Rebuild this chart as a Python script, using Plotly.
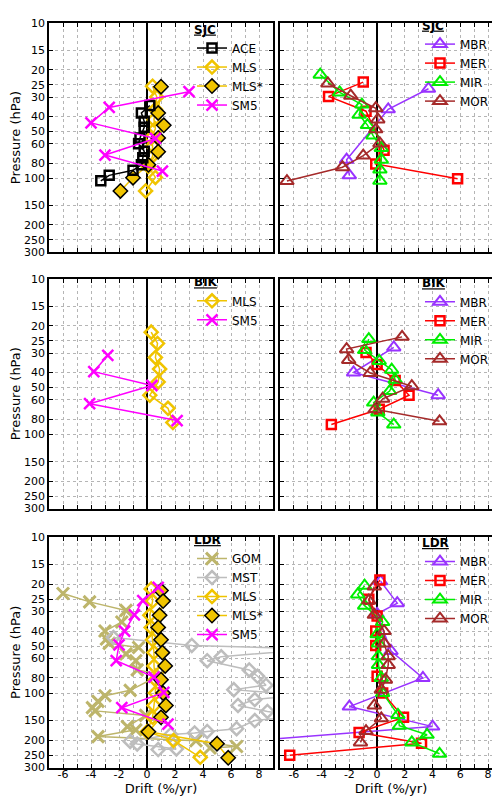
import math
import plotly.graph_objects as go

FONT = "DejaVu Sans"

# ---------------- axis ticks ----------------
PRESSURE_TICKS = [10, 15, 20, 25, 30, 40, 50, 60, 80, 100, 150, 200, 250, 300]
PRESSURE_LABELS = [str(v) for v in PRESSURE_TICKS]
DRIFT_TICKS = list(range(-7, 10))
DRIFT_LABELS = [str(v) if (v % 2 == 0 and -6 <= v <= 8) else "" for v in DRIFT_TICKS]

# ---------------- SJC (top row) ----------------
SJC_ACE_P = [34, 38, 43, 47, 55, 60, 67, 74, 82, 89, 96, 104]
SJC_ACE_X = [0.2, -0.4, -0.2, -0.2, -0.5, -0.6, -0.2, -0.3, -0.4, -1.0, -2.7, -3.3]
SJC_MLS_P = [25.5, 30, 36, 42, 48, 55, 62, 72, 84, 99, 121]
SJC_MLS_X = [0.4, 0.7, 0.6, 0.5, 0.6, 0.3, 0.4, 0.4, 0.1, 0.6, -0.1]
SJC_MLSS_P = [25.7, 38, 45.6, 55, 67.5, 82, 99.4, 121]
SJC_MLSS_X = [1.0, 0.8, 1.2, 0.8, 0.8, 0.1, -1.0, -1.9]
SJC_SM5_P = [27.7, 35, 44, 55.5, 71, 90]
SJC_SM5_X = [3.0, -2.7, -4.0, 0.6, -3.0, 1.1]

SJC_MBR_P = [26.5, 36, 76, 96]
SJC_MBR_X = [3.7, 0.8, -2.2, -2.0]
SJC_MER_P = [24, 29.7, 37, 66, 81, 101]
SJC_MER_X = [-1.0, -3.5, -0.8, 0.5, -0.1, 5.8]
SJC_MIR_P = [21.5, 28, 33.5, 39, 45.5, 53, 64, 76, 88, 104]
SJC_MIR_X = [-4.1, -2.7, -1.1, -1.3, -0.7, -0.3, 0.3, 0.3, 0.2, 0.2]
SJC_MOR_P = [24.5, 29.4, 35.4, 41.8, 48.4, 59.7, 71.5, 85, 104.5]
SJC_MOR_X = [-3.55, -1.9, -0.1, 0.05, -0.1, 0.2, -1.0, -2.5, -6.5]

# ---------------- BIK (middle row) ----------------
BIK_MLS_P = [22, 26, 32, 38, 46, 56, 68, 84]
BIK_MLS_X = [0.3, 0.75, 0.6, 0.9, 0.8, 0.2, 1.5, 1.85]
BIK_SM5_P = [31, 39.5, 48.5, 63.5, 81.5]
BIK_SM5_X = [-2.8, -3.8, 0.35, -4.1, 2.15]

BIK_MBR_P = [27.6, 40, 56]
BIK_MBR_X = [1.2, -1.7, 4.4]
BIK_MER_P = [29.7, 35.5, 45, 56, 69, 86.5]
BIK_MER_X = [-0.8, 0.0, 1.3, 2.3, 0.15, -3.3]
BIK_MIR_P = [24.4, 28.7, 33.7, 38.4, 44.5, 52.7, 62.5, 72.3, 86.5]
BIK_MIR_X = [-0.6, -0.9, 0.15, 1.05, 1.3, 0.9, -0.25, 0.05, 1.2]
BIK_MOR_P = [23.6, 28.3, 33.2, 40.3, 49, 59, 69, 82.4]
BIK_MOR_X = [1.8, -2.2, -2.05, -0.5, 2.5, 0.4, -0.15, 4.5]

# ---------------- LDR (bottom row) ----------------
LDR_GOM_P = [23, 26, 29.5, 35, 40, 45, 48, 51, 56, 62, 71, 76, 96, 104, 113, 124, 130,
             139, 164, 172, 190, 202, 220, 225]
LDR_GOM_X = [-6.0, -4.1, -1.5, -1.8, -3.0, -2.9, -2.7, -0.6, -1.5, -0.8, -0.7, 1.0, -1.2,
             -3.0, -3.5, -3.9, -3.7, -0.1, -1.4, -0.8, -3.5, 3.5, 6.4, 4.5]
LDR_MST_P = [44, 49.5, 52, 58.5, 62, 71, 78, 89, 95, 103, 110, 120, 131, 140, 150, 169,
             176, 180, 184, 204, 212, 228, 230]
LDR_MST_X = [-2.4, 3.2, 12, 5.3, 4.3, 7.3, 7.9, 8.5, 6.2, 11, 7.7, 6.5, 8.6, 11, 7.7, 6.4,
             4.3, 3.4, 1.7, -1.2, -0.7, 2.1, 0.8]
LDR_MLS_P = [21.5, 25.7, 31.7, 37.9, 45.5, 55, 67, 82, 100, 120, 143, 177, 201, 258]
LDR_MLS_X = [0.3, 0.4, 0.2, 0.3, 0.4, 0.5, 0.5, 0.6, 0.6, 0.5, 0.4, 0.0, 1.9, 3.8]
LDR_MLSS_P = [22, 25.7, 31.7, 37.9, 45.5, 55, 67, 82, 100, 120, 143, 177, 211, 260]
LDR_MLSS_X = [1.0, 1.15, 0.9, 0.8, 1.0, 1.1, 1.3, 1.0, 1.15, 1.35, 1.0, 0.1, 5.0, 5.8]
LDR_SM5_P = [21, 25.5, 31.5, 40, 49, 62, 79, 99, 124, 158]
LDR_SM5_X = [0.8, -0.3, -0.9, -1.6, -2.0, -2.2, 0.5, 1.2, -1.8, 1.5]

LDR_MBR_P = [19.2, 26.5, 31, 53.7, 80, 122, 164, 202]
LDR_MBR_X = [0.25, 1.45, 0.0, 1.0, 3.3, -2.0, 4.0, -9]
LDR_MER_P = [18.8, 25, 32, 40, 49.5, 78, 100, 143, 179, 210, 250]
LDR_MER_X = [0.2, -0.6, 0.0, -0.1, -0.1, 0.0, 0.4, 1.9, -1.3, 3.2, -6.3]
LDR_MIR_P = [20.5, 23.3, 27.5, 35, 42, 48, 58, 66, 80, 100, 138, 162, 185, 207, 245]
LDR_MIR_X = [-0.9, -1.4, -0.9, 0.4, 0.0, 0.1, 0.1, 0.1, 0.3, 0.4, 1.5, 1.6, 3.6, 2.5, 4.5]
LDR_MOR_P = [20.7, 25.5, 31.5, 40, 48, 58, 66, 82, 95, 120, 145, 175, 207]
LDR_MOR_X = [-0.2, -0.6, -0.2, 0.5, 0.5, 0.8, 0.8, 0.6, 0.3, -0.2, 0.3, -0.8, -1.2]

# ---------------- styles ----------------
GOLD = "#F0C400"
STYLE = {
    "ACE": dict(color="black", symbol="square-open", size=9, mline=2.5, mlcolor=None),
    "MLS": dict(color=GOLD, symbol="diamond-open", size=10, mline=2.5, mlcolor=None),
    "MLS*": dict(color=GOLD, symbol="diamond", size=11, mline=1.5, mlcolor="black"),
    "SM5": dict(color="#FF00FF", symbol="x-thin-open", size=11, mline=2.5, mlcolor=None),
    "GOM": dict(color="#BDB56B", symbol="x-thin-open", size=12, mline=3, mlcolor=None),
    "MST": dict(color="#BDBDBD", symbol="diamond-open", size=10, mline=2.5, mlcolor=None),
    "MBR": dict(color="#9933FF", symbol="triangle-up-open", size=12, mline=2, mlcolor=None),
    "MER": dict(color="#FF0000", symbol="square-open", size=9, mline=2.5, mlcolor=None),
    "MIR": dict(color="#00EE00", symbol="triangle-up-open", size=12, mline=2, mlcolor=None),
    "MOR": dict(color="#A52A2A", symbol="triangle-up-open", size=12, mline=2, mlcolor=None),
}

PANELS = [
    ("SJC", 0, 0, [("MLS", SJC_MLS_X, SJC_MLS_P, 2), ("MLS*", SJC_MLSS_X, SJC_MLSS_P, 3),
                   ("ACE", SJC_ACE_X, SJC_ACE_P, 1), ("SM5", SJC_SM5_X, SJC_SM5_P, 4)]),
    ("SJC", 0, 1, [("MBR", SJC_MBR_X, SJC_MBR_P, 1), ("MER", SJC_MER_X, SJC_MER_P, 2),
                   ("MIR", SJC_MIR_X, SJC_MIR_P, 3), ("MOR", SJC_MOR_X, SJC_MOR_P, 4)]),
    ("BIK", 1, 0, [("MLS", BIK_MLS_X, BIK_MLS_P, 1), ("SM5", BIK_SM5_X, BIK_SM5_P, 2)]),
    ("BIK", 1, 1, [("MBR", BIK_MBR_X, BIK_MBR_P, 1), ("MER", BIK_MER_X, BIK_MER_P, 2),
                   ("MIR", BIK_MIR_X, BIK_MIR_P, 3), ("MOR", BIK_MOR_X, BIK_MOR_P, 4)]),
    ("LDR", 2, 0, [("GOM", LDR_GOM_X, LDR_GOM_P, 1), ("MST", LDR_MST_X, LDR_MST_P, 2),
                   ("MLS", LDR_MLS_X, LDR_MLS_P, 3), ("MLS*", LDR_MLSS_X, LDR_MLSS_P, 4),
                   ("SM5", LDR_SM5_X, LDR_SM5_P, 5)]),
    ("LDR", 2, 1, [("MBR", LDR_MBR_X, LDR_MBR_P, 1), ("MER", LDR_MER_X, LDR_MER_P, 2),
                   ("MIR", LDR_MIR_X, LDR_MIR_P, 3), ("MOR", LDR_MOR_X, LDR_MOR_P, 4)]),
]

W, H = 500, 798
COL_X = [(41 / W, 265 / W), (272 / W, 494 / W)]
ROW_Y = [(1 - 242 / H, 1 - 9.3 / H), (1 - 502.7 / H, 1 - 269.3 / H), (1 - 766 / H, 1 - 531.8 / H)]
LEG_POS = {(0, 0): (184, 4), (0, 1): (412, 0), (1, 0): (184, 261), (1, 1): (412, 262),
           (2, 0): (184, 523), (2, 1): (412, 526)}

fig = go.Figure()
layout = dict(
    width=W, height=H, autosize=False,
    margin=dict(l=0, r=0, t=0, b=0),
    paper_bgcolor="white", plot_bgcolor="white",
    font=dict(family=FONT, size=12, color="black"),
    showlegend=True,
)

for i, (site, row, col, series) in enumerate(PANELS, start=1):
    sfx = "" if i == 1 else str(i)
    legname = "legend" + sfx
    for name, xs, ps, rank in series:
        st = STYLE[name]
        mline = dict(width=st["mline"])
        if st["mlcolor"]:
            mline["color"] = st["mlcolor"]
        fig.add_trace(go.Scatter(
            x=xs, y=ps, name=name, mode="lines+markers",
            xaxis="x" + sfx, yaxis="y" + sfx, legend=legname, legendrank=rank,
            line=dict(color=st["color"], width=1.5),
            marker=dict(symbol=st["symbol"], size=st["size"], color=st["color"], line=mline),
            cliponaxis=True,
        ))
    xa = dict(
        domain=list(COL_X[col]), anchor="y" + sfx, range=[-7, 9],
        tickmode="array", tickvals=DRIFT_TICKS, ticktext=DRIFT_LABELS,
        ticks="inside", ticklen=4, tickwidth=1, tickcolor="black",
        showline=True, linecolor="black", linewidth=1.5, mirror="allticks",
        showgrid=True, gridcolor="#B5B5B5", griddash="dot", gridwidth=1,
        zeroline=True, zerolinecolor="black", zerolinewidth=1.5,
        showticklabels=(row == 2), tickfont=dict(size=11),
    )
    if row == 2:
        xa["ticklabelstandoff"] = -4
        xa["title"] = dict(text="Drift (%/yr)", font=dict(size=13), standoff=0)
    ya = dict(
        domain=list(ROW_Y[row]), anchor="x" + sfx, type="log",
        range=[math.log10(300), 1],
        tickmode="array", tickvals=PRESSURE_TICKS, ticktext=PRESSURE_LABELS,
        ticks="inside", ticklen=4, tickwidth=1, tickcolor="black",
        showline=True, linecolor="black", linewidth=1.5, mirror="allticks",
        showgrid=True, gridcolor="#B5B5B5", griddash="dot", gridwidth=1,
        zeroline=False, showticklabels=(col == 0), tickfont=dict(size=11),
    )
    if col == 0:
        ya["title"] = dict(text="Pressure (hPa)", font=dict(size=13), standoff=4)
    layout["xaxis" + sfx] = xa
    layout["yaxis" + sfx] = ya
    lx, ly = LEG_POS[(row, col)]
    layout[legname] = dict(
        x=lx / W, y=1 - ly / H, xanchor="left", yanchor="top",
        bgcolor="rgba(0,0,0,0)", borderwidth=0,
        font=dict(family=FONT, size=12),
        title=dict(text="<b><span style='text-decoration:underline'>" + site + "</span></b>",
                   font=dict(family=FONT, size=12), side="top"),
        tracegroupgap=0, itemwidth=30,
    )

fig.update_layout(**layout)
fig.write_html("out.html")
